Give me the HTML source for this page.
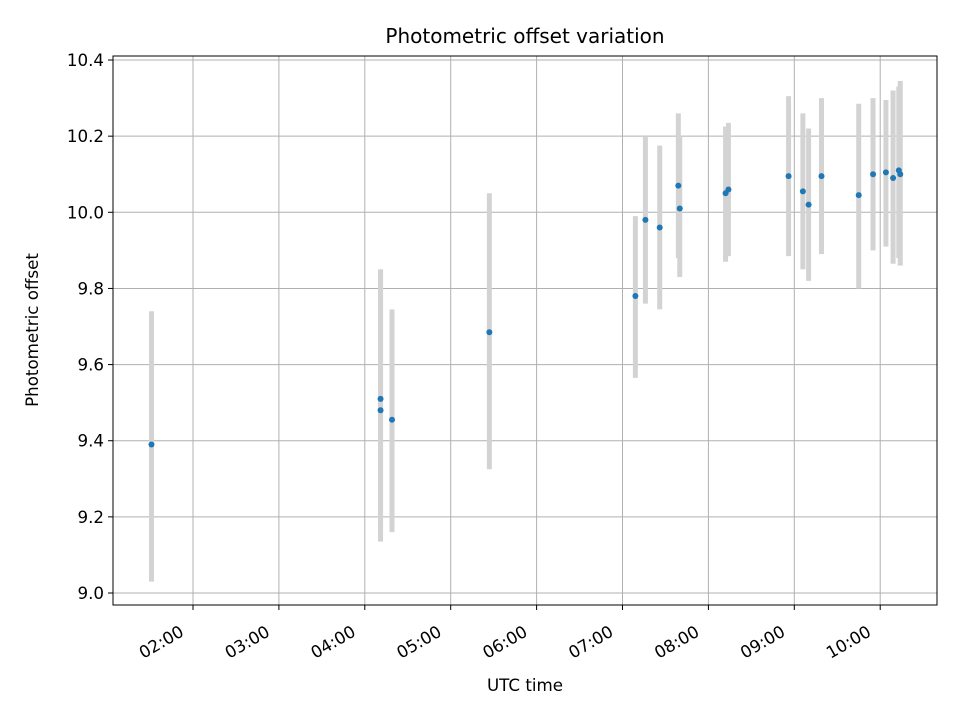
<!DOCTYPE html>
<html><head><meta charset="utf-8"><style>
body{margin:0;background:#fff;}
svg{display:block;font-family:"DejaVu Sans","Liberation Sans",sans-serif;}
</style></head><body>
<svg id="chart" width="960" height="720"></svg>
<script>
const times=["01:31","04:11","04:11","04:19","05:27","07:09","07:16","07:26","07:39","07:40","08:12","08:14","08:56","09:06","09:10","09:19","09:45","09:55","10:04","10:09","10:13","10:14"];
const values=[9.39,9.48,9.51,9.455,9.685,9.78,9.98,9.96,10.07,10.01,10.05,10.06,10.095,10.055,10.02,10.095,10.045,10.1,10.105,10.09,10.11,10.1];
const lows=[9.03,9.135,9.17,9.16,9.325,9.565,9.76,9.745,9.88,9.83,9.87,9.885,9.885,9.85,9.82,9.89,9.8,9.9,9.91,9.865,9.88,9.86];
const highs=[9.74,9.85,9.85,9.745,10.05,9.99,10.2,10.175,10.26,10.2,10.225,10.235,10.305,10.26,10.22,10.3,10.285,10.3,10.295,10.32,10.33,10.345];
const yTicks=[9.0,9.2,9.4,9.6,9.8,10.0,10.2,10.4];
const xTicks=["02:00","03:00","04:00","05:00","06:00","07:00","08:00","09:00","10:00"];
const NS="http://www.w3.org/2000/svg";
const svg=document.getElementById('chart');
const L=113,R=937,T=56,B=605;
function hrs(s){const p=s.split(':');return +p[0]+ +p[1]/60;}
function xs(h){return 193+(h-2)*85.9;}
function ys(v){return 593-(v-9)*380.7;}
function mk(tag,attrs,parent){const e=document.createElementNS(NS,tag);for(const k in attrs)e.setAttribute(k,attrs[k]);(parent||svg).appendChild(e);return e;}
const grid=mk('g',{});


yTicks.forEach(v=>{
  const y=ys(v);
  mk('line',{x1:L,x2:R,y1:y,y2:y,stroke:'#b0b0b0','stroke-width':1},grid);
  mk('line',{x1:L-5,x2:L,y1:y,y2:y,stroke:'#000'});
  const t=mk('text',{x:L-9,y:y+6,'text-anchor':'end','font-size':16.7});
  t.textContent=v.toFixed(1);
  
  
});
xTicks.forEach(s=>{
  const x=xs(hrs(s));
  mk('line',{x1:x,x2:x,y1:T,y2:B,stroke:'#b0b0b0','stroke-width':1},grid);
  mk('line',{x1:x,x2:x,y1:B,y2:B+5,stroke:'#000'});
  const ax=x-8, ay=B+30;
  const t=mk('text',{x:ax,y:ay,'text-anchor':'end','font-size':16.7,transform:`rotate(-30 ${ax} ${ay})`});
  t.textContent=s;
  
  
});
const eb=mk('g',{});


const pts=mk('g',{});


times.forEach((s,i)=>{
  const x=xs(hrs(s));
  const b=mk('line',{x1:x,x2:x,y1:ys(lows[i]),y2:ys(highs[i]),stroke:'#d3d3d3','stroke-width':5},eb);
  
  
});
times.forEach((s,i)=>{
  const c=mk('circle',{cx:xs(hrs(s)),cy:ys(values[i]),r:3,fill:'#1f77b4'},pts);
  
  
});
const frame=mk('rect',{x:L,y:T,width:R-L,height:B-T,fill:'none',stroke:'#000','stroke-width':1});


const title=mk('text',{x:(L+R)/2,y:43,'text-anchor':'middle','font-size':20});
title.textContent='Photometric offset variation';


const xt=mk('text',{x:(L+R)/2,y:691,'text-anchor':'middle','font-size':16.7});
xt.textContent='UTC time';


const yt=mk('text',{x:38,y:330,'text-anchor':'middle','font-size':16.7,transform:'rotate(-90 38 330)'});
yt.textContent='Photometric offset';


</script>
</body></html>
